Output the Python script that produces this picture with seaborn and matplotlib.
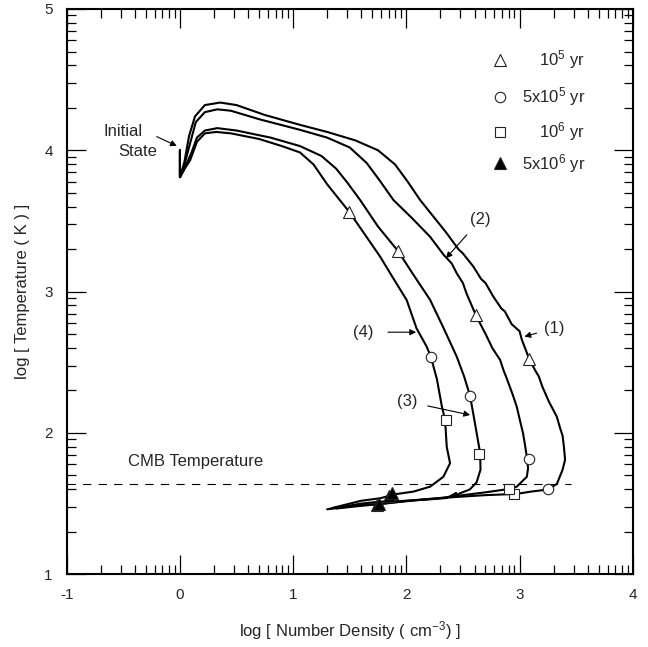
import numpy as np
import pandas as pd
import matplotlib
matplotlib.use("Agg")
import matplotlib.pyplot as plt
import seaborn as sns

# curve data (log n, log T)
x1 = [0, 0, 0.04, 0.08, 0.133, 0.22, 0.355, 0.5, 0.75, 1.061, 1.3, 1.55, 1.75, 1.90, 2.01, 2.121, 2.25, 2.35,
      2.46, 2.50, 2.592, 2.66, 2.70, 2.768, 2.84, 2.87, 2.93, 3.00, 3.02, 3.087, 3.14, 3.17, 3.2, 3.26, 3.28,
      3.329, 3.36, 3.38, 3.392, 3.402, 3.38, 3.33, 3.254, 3.10, 3.006, 2.954, 2.7, 2.4, 2.1, 1.8, 1.55, 1.38]
y1 = [4.00, 3.81, 3.92, 4.10, 4.24, 4.32, 4.338, 4.32, 4.25, 4.18, 4.13, 4.07, 4.00, 3.90, 3.78, 3.649, 3.52, 3.42,
      3.30, 3.27, 3.177, 3.09, 3.06, 2.965, 2.88, 2.86, 2.77, 2.72, 2.66, 2.52, 2.44, 2.40, 2.33, 2.22, 2.19,
      2.115, 2.03, 1.98, 1.90, 1.81, 1.74, 1.64, 1.60, 1.585, 1.573, 1.568, 1.56, 1.545, 1.525, 1.50, 1.48, 1.465]

x2 = [0, 0, 0.04, 0.09, 0.14, 0.22, 0.33, 0.45, 0.7, 1.06, 1.3, 1.5, 1.65, 1.77, 1.885, 2.05, 2.209, 2.33, 2.40,
      2.445, 2.50, 2.53, 2.613, 2.68, 2.70, 2.76, 2.828, 2.86, 2.88, 2.94, 2.975, 3.00, 3.03, 3.045, 3.064,
      3.075, 3.064, 2.975, 2.91, 2.70, 2.50, 2.30, 2.0, 1.8, 1.6, 1.4, 1.3]
y2 = [4.00, 3.81, 3.90, 4.05, 4.20, 4.27, 4.29, 4.28, 4.22, 4.145, 4.09, 4.02, 3.91, 3.78, 3.649, 3.52, 3.389, 3.26,
      3.20, 3.13, 3.06, 2.99, 2.835, 2.73, 2.70, 2.60, 2.517, 2.44, 2.40, 2.27, 2.186, 2.10, 2.00, 1.93, 1.832,
      1.75, 1.69, 1.62, 1.604, 1.58, 1.56, 1.54, 1.52, 1.50, 1.49, 1.47, 1.46]

x3 = [0, 0, 0.05, 0.10, 0.15, 0.22, 0.33, 0.5, 0.8, 1.06, 1.25, 1.38, 1.48, 1.591, 1.75, 1.924, 2.07, 2.209,
      2.33, 2.445, 2.51, 2.563, 2.61, 2.652, 2.655, 2.62, 2.56, 2.474, 2.40, 2.44, 2.36, 2.2, 2.0, 1.768, 1.6,
      1.45, 1.33]
y3 = [4.00, 3.81, 3.89, 3.98, 4.09, 4.14, 4.157, 4.14, 4.09, 4.03, 3.96, 3.87, 3.77, 3.649, 3.46, 3.29, 3.11, 2.943,
      2.74, 2.54, 2.40, 2.262, 2.05, 1.856, 1.74, 1.65, 1.60, 1.573, 1.545, 1.575, 1.54, 1.53, 1.52, 1.514, 1.50,
      1.48, 1.465]

x4 = [0, 0, 0.05, 0.09, 0.15, 0.22, 0.32, 0.45, 0.7, 0.9, 1.06, 1.18, 1.30, 1.40, 1.494, 1.62, 1.768, 1.88, 2.003,
      2.09, 2.18, 2.216, 2.27, 2.313, 2.342, 2.357, 2.386, 2.327, 2.21, 2.062, 1.915, 1.768, 1.6, 1.45, 1.35]
y4 = [4.00, 3.81, 3.88, 3.93, 4.06, 4.12, 4.13, 4.12, 4.08, 4.03, 3.985, 3.90, 3.76, 3.66, 3.566, 3.42, 3.248, 3.10,
      2.94, 2.74, 2.61, 2.54, 2.38, 2.19, 2.092, 1.90, 1.786, 1.69, 1.62, 1.585, 1.568, 1.538, 1.52, 1.49, 1.47]

# time markers on the four curves (1)..(4)
tri_x = [3.087, 2.613, 1.924, 1.494]
tri_y = [2.52, 2.835, 3.29, 3.566]
circ_x = [3.254, 3.084, 2.563, 2.216]
circ_y = [1.60, 1.814, 2.264, 2.54]
sq_x = [2.954, 2.91, 2.645, 2.348]
sq_y = [1.568, 1.604, 1.849, 2.092]
ftri_x = [1.739, 1.76, 1.85, 1.871]
ftri_y = [1.49, 1.50, 1.555, 1.573]

legend_labels = ["10$^5$ yr", "5x10$^5$ yr", "10$^6$ yr", "5x10$^6$ yr"]
cmb_logT = 1.637

rows = []
for cid, (xs, ys) in enumerate([(x1, y1), (x2, y2), (x3, y3), (x4, y4)], start=1):
    for i, (a, b) in enumerate(zip(xs, ys)):
        rows.append({"curve": cid, "step": i, "logn": a, "logT": b})
df = pd.DataFrame(rows)

sns.set_style("ticks")
plt.rcParams["font.family"] = ["Liberation Sans", "DejaVu Sans"]
plt.rcParams["mathtext.fontset"] = "custom"
plt.rcParams["mathtext.rm"] = "Liberation Sans"
plt.rcParams["mathtext.it"] = "Liberation Sans:italic"
plt.rcParams["axes.unicode_minus"] = False

fig = plt.figure(figsize=(6.48, 6.47), dpi=100)
ax = fig.add_axes([0.103, 0.1124, 0.8735, 0.8737])

sns.lineplot(data=df, x="logn", y="logT", units="curve", estimator=None, sort=False,
             color="black", lw=1.5, ax=ax, legend=False)

ax.plot([-1, 3.45], [cmb_logT, cmb_logT], color="black", lw=0.8, dashes=(7.5, 6.5))

mk = dict(linestyle="none", markeredgecolor="#222222", markeredgewidth=0.8, zorder=5)
ax.plot(tri_x, tri_y, marker="^", markersize=9, markerfacecolor="white", **mk)
ax.plot(circ_x, circ_y, marker="o", markersize=7.5, markerfacecolor="white", **mk)
ax.plot(sq_x, sq_y, marker="s", markersize=7.5, markerfacecolor="white", **mk)
ax.plot(ftri_x, ftri_y, marker="^", markersize=8, markerfacecolor="black", **mk)

# legend drawn by hand (markers left, text right aligned)
leg_y = [0.910, 0.845, 0.783, 0.727]
leg_m = [("^", "white", 9), ("o", "white", 7.5), ("s", "white", 7.5), ("^", "black", 8)]
for yy, lab, (m, fc, ms) in zip(leg_y, legend_labels, leg_m):
    ax.plot([0.766], [yy], marker=m, markersize=ms, markerfacecolor=fc, transform=ax.transAxes, **mk)
    ax.text(0.916, yy, lab, transform=ax.transAxes, ha="right", va="center", fontsize=12)

# annotations
ax.text(-0.5, 4.132, "Initial", ha="center", va="center", fontsize=12)
ax.text(-0.376, 3.99, "State", ha="center", va="center", fontsize=12)
ax.text(-0.457, 1.80, "CMB Temperature", ha="left", va="center", fontsize=12)
arw = dict(arrowstyle="-|>", color="black", lw=0.8, mutation_scale=9, shrinkA=0, shrinkB=0)
ax.annotate("", xy=(-0.028, 4.031), xytext=(-0.205, 4.097), arrowprops=arw)
ax.annotate("(1)", xy=(3.043, 2.682), xytext=(3.305, 2.741), ha="center", va="center", fontsize=12,
            arrowprops=dict(arw, shrinkA=3))
ax.annotate("(2)", xy=(2.35, 3.236), xytext=(2.651, 3.508), ha="center", va="center", fontsize=12,
            arrowprops=dict(arw, shrinkA=4))
ax.annotate("(3)", xy=(2.563, 2.127), xytext=(2.009, 2.222), ha="center", va="center", fontsize=12,
            arrowprops=dict(arw, shrinkA=5))
ax.annotate("(4)", xy=(2.086, 2.713), xytext=(1.62, 2.713), ha="center", va="center", fontsize=12,
            arrowprops=dict(arw, shrinkA=8))

# axes, ticks
ax.set_xlim(-1, 4)
ax.set_ylim(1, 5)
ax.set_xticks([-1, 0, 1, 2, 3, 4])
ax.set_yticks([1, 2, 3, 4, 5])
xminor = [d + np.log10(k) for d in range(-1, 4) for k in range(2, 10)]
yminor = [d + np.log10(k) for d in range(1, 5) for k in range(2, 10)]
ax.set_xticks(xminor, minor=True)
ax.set_yticks(yminor, minor=True)
ax.tick_params(which="both", direction="in", top=True, right=True, width=0.9, color="black")
ax.tick_params(which="major", length=14, labelsize=11, pad=10)
ax.tick_params(which="minor", length=6.5)
for s in ax.spines.values():
    s.set_linewidth(1.5)
    s.set_color("black")

ax.set_xlabel("log [ Number Density ( cm$^{-3}$) ]", fontsize=12, labelpad=12)
ax.set_ylabel("log [ Temperature ( K ) ]", fontsize=12, labelpad=10)

fig.savefig("out.png", dpi=100)
